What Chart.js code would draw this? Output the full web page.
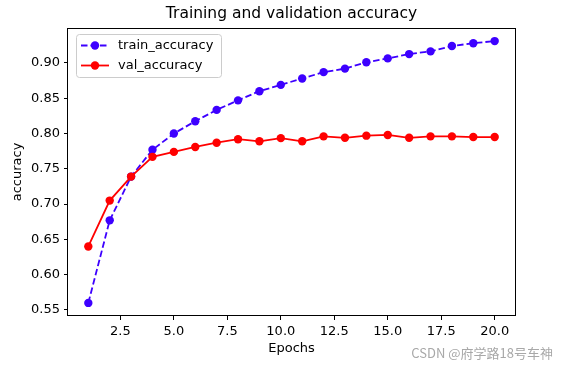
<!DOCTYPE html>
<html>
<head>
<meta charset="utf-8">
<script src="https://cdn.jsdelivr.net/npm/chart.js@4/dist/chart.umd.min.js"></script>
<style>
  html, body { margin: 0; padding: 0; background: #fff; }
  #wrap { width: 568px; height: 368px; }
</style>
</head>
<body>
<div id="wrap"><canvas id="chart" width="568" height="368"></canvas></div>
<script>
// data
const epochs = [1, 2, 3, 4, 5, 6, 7, 8, 9, 10, 11, 12, 13, 14, 15, 16, 17, 18, 19, 20];
const trainAccuracy = [0.560, 0.677, 0.739, 0.777, 0.800, 0.8175, 0.8335, 0.847, 0.860, 0.869,
                       0.878, 0.887, 0.892, 0.901, 0.9065, 0.9126, 0.9164, 0.924, 0.928, 0.931];
const valAccuracy = [0.640, 0.705, 0.739, 0.767, 0.774, 0.781, 0.787, 0.792, 0.789, 0.7935,
                     0.789, 0.796, 0.794, 0.797, 0.798, 0.794, 0.796, 0.796, 0.795, 0.795];
const xTicks = [2.5, 5.0, 7.5, 10.0, 12.5, 15.0, 17.5, 20.0];
const yTicks = [0.55, 0.60, 0.65, 0.70, 0.75, 0.80, 0.85, 0.90];

const FONT = "'DejaVu Sans', sans-serif";
const BLUE = '#3d00ff';
const RED = '#ff0000';

// matplotlib-like 5% margins
const allY = trainAccuracy.concat(valAccuracy);
const yLo = Math.min(...allY), yHi = Math.max(...allY);
const yPad = (yHi - yLo) * 0.05;
const xPad = (epochs[epochs.length - 1] - epochs[0]) * 0.05;

// frame, legend box and watermark
const extras = {
    id: 'extras',
    afterLayout(chart) {
        // center the title over the plot area like matplotlib does
        if (chart.titleBlock) {
            chart.titleBlock.left = chart.chartArea.left;
            chart.titleBlock.right = chart.chartArea.right;
        }
    },
    afterDatasetsDraw(chart) {
        const ctx = chart.ctx;
        const a = chart.chartArea;
        ctx.save();
        ctx.strokeStyle = '#000';
        ctx.lineWidth = 1;
        ctx.strokeRect(Math.round(a.left) - 0.5, Math.round(a.top) + 0.5,
                       Math.round(a.right - a.left) + 1, Math.round(a.bottom - a.top) - 1);

        // legend
        ctx.fillStyle = 'rgba(255,255,255,0.8)';
        ctx.strokeStyle = '#cccccc';
        ctx.beginPath();
        ctx.roundRect(76.5, 34.5, 145, 43, 3);
        ctx.fill();
        ctx.stroke();
        ctx.font = '13px ' + FONT;
        ctx.textBaseline = 'middle';
        chart.data.datasets.forEach((ds, i) => {
            const y = 45.5 + i * 20;
            ctx.strokeStyle = ds.borderColor;
            ctx.lineWidth = ds.borderWidth;
            ctx.setLineDash(ds.borderDash || []);
            ctx.beginPath();
            ctx.moveTo(81, y);
            ctx.lineTo(109, y);
            ctx.stroke();
            ctx.setLineDash([]);
            ctx.fillStyle = ds.borderColor;
            ctx.beginPath();
            ctx.arc(95, y, ds.pointRadius, 0, Math.PI * 2);
            ctx.fill();
            ctx.fillStyle = '#000';
            ctx.fillText(ds.label, 118, y);
        });

        // watermark
        ctx.font = "13px 'Noto Sans CJK SC', sans-serif";
        ctx.fillStyle = '#a8a8a8';
        ctx.textAlign = 'right';
        ctx.fillText('CSDN @府学路18号车神', 553, 353);
        ctx.restore();
    }
};

const ctx = document.getElementById('chart');
const chart = new Chart(ctx, {
    type: 'line',
    data: {
        datasets: [
            {
                label: 'train_accuracy',
                data: epochs.map((e, i) => ({ x: e, y: trainAccuracy[i] })),
                borderColor: BLUE,
                backgroundColor: BLUE,
                borderWidth: 1.8,
                borderDash: [6.5, 3],
                pointRadius: 4.2,
                pointBorderWidth: 0,
                pointBackgroundColor: BLUE,
                tension: 0,
                order: 1,
            },
            {
                label: 'val_accuracy',
                data: epochs.map((e, i) => ({ x: e, y: valAccuracy[i] })),
                borderColor: RED,
                backgroundColor: RED,
                borderWidth: 1.8,
                pointRadius: 4.2,
                pointBorderWidth: 0,
                pointBackgroundColor: RED,
                tension: 0,
                order: 0,
            },
        ],
    },
    options: {
        responsive: false,
        animation: false,
        layout: { padding: { left: 0, right: 53, top: 0, bottom: 0 } },
        plugins: {
            legend: { display: false },
            tooltip: { enabled: false },
            title: {
                display: true,
                text: 'Training and validation accuracy',
                color: '#000',
                font: { family: FONT, size: 15.5, weight: 'normal', lineHeight: 1.2 },
                padding: { top: 5, bottom: 4.4 },
            },
        },
        scales: {
            x: {
                type: 'linear',
                min: epochs[0] - xPad,
                max: epochs[epochs.length - 1] + xPad,
                afterFit: (s) => { s.height = 52; },
                afterBuildTicks: (s) => { s.ticks = xTicks.map(v => ({ value: v })); },
                border: { display: false },
                grid: { drawOnChartArea: false, drawTicks: true, tickLength: 4, tickColor: '#000', color: '#000' },
                ticks: {
                    color: '#000',
                    font: { family: FONT, size: 13 },
                    padding: 4,
                    maxRotation: 0,
                    callback: (v) => v.toFixed(1),
                },
                title: {
                    display: true,
                    text: 'Epochs',
                    color: '#000',
                    font: { family: FONT, size: 13 },
                    padding: { top: 0, bottom: 12 },
                },
            },
            y: {
                type: 'linear',
                min: yLo - yPad,
                max: yHi + yPad,
                afterFit: (s) => { s.width = 68; },
                afterBuildTicks: (s) => { s.ticks = yTicks.map(v => ({ value: v })); },
                border: { display: false },
                grid: { drawOnChartArea: false, drawTicks: true, tickLength: 4, tickColor: '#000', color: '#000' },
                ticks: {
                    color: '#000',
                    font: { family: FONT, size: 13 },
                    padding: 4,
                    callback: (v) => v.toFixed(2),
                },
                title: {
                    display: true,
                    text: 'accuracy',
                    color: '#000',
                    font: { family: FONT, size: 13 },
                    padding: { top: 10, bottom: 0 },
                },
            },
        },
    },
    plugins: [extras],
});
</script>
</body>
</html>
